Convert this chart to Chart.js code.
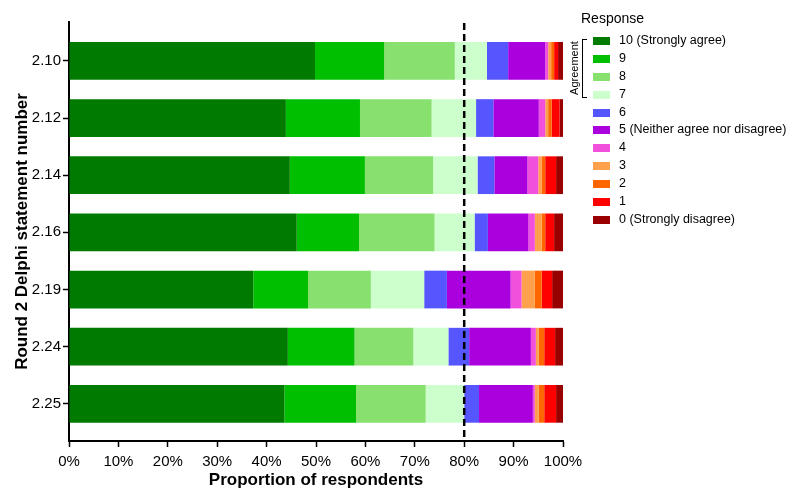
<!DOCTYPE html>
<html>
<head>
<meta charset="utf-8">
<script src="https://cdn.jsdelivr.net/npm/chart.js@4.4.1/dist/chart.umd.min.js"></script>
<style>
  body { margin: 0; background: #fff; }
  #wrap { position: relative; width: 800px; height: 501px; font-family: "Liberation Sans", Arial, sans-serif; }
  #legend { position: absolute; left: 581px; top: 8px; color: #000; }
  #legend .title { font-size: 14px; height: 24px; line-height: 20px; }
  #legend .item { position: relative; height: 17.9px; padding-left: 38px; font-size: 12.5px; line-height: 17.9px; white-space: nowrap; }
  #legend .box { position: absolute; left: 12px; top: 5px; width: 17px; height: 8px; }
  #bracket { position: absolute; left: 582px; top: 39px; width: 4px; height: 57px; border: 1.5px solid #000; border-right: none; }
  #agree { position: absolute; left: 574px; top: 68px; font-size: 11px; transform: translate(-50%, -50%) rotate(-90deg); white-space: nowrap; }
</style>
</head>
<body>
<div id="wrap">
  <canvas id="myChart" width="800" height="501"></canvas>
  <div id="legend"></div>
  <div id="bracket"></div>
  <div id="agree">Agreement</div>
</div>
<script>
const statements = ["2.10", "2.12", "2.14", "2.16", "2.19", "2.24", "2.25"];

const responses = ["10 (Strongly agree)", "9", "8", "7", "6", "5 (Neither agree nor disagree)", "4", "3", "2", "1", "0 (Strongly disagree)"];
const colors = ["#007b00", "#00bf00", "#88e06e", "#ccffcc", "#5656ff", "#aa00dd", "#f050dc", "#ffa04c", "#ff6600", "#ff0000", "#990000"];

// percentages per response, one value per statement (same order as statements)
const r10 = [49.8, 43.9, 44.7, 46.1, 37.3, 44.3, 43.6];
const r9 = [14.0, 15.0, 15.2, 12.6, 11.1, 13.5, 14.5];
const r8 = [14.3, 14.5, 13.8, 15.3, 12.7, 11.9, 14.1];
const r7 = [6.5, 9.0, 9.0, 8.1, 10.8, 7.1, 7.8];
const r6 = [4.3, 3.5, 3.4, 2.7, 4.6, 4.2, 3.0];
const r5 = [7.5, 9.2, 6.7, 8.2, 12.9, 12.5, 10.9];
const r4 = [0.6, 1.3, 2.2, 1.3, 2.2, 1.0, 0.4];
const r3 = [0.6, 0.6, 0.7, 1.4, 2.7, 0.6, 0.8];
const r2 = [0.6, 0.7, 0.7, 0.7, 1.4, 1.1, 1.1];
const r1 = [0.8, 1.6, 2.2, 1.8, 2.1, 2.2, 2.4];
const r0 = [1.0, 0.7, 1.4, 1.8, 2.2, 1.6, 1.4];

const xTicks = [0, 10, 20, 30, 40, 50, 60, 70, 80, 90, 100];
const cutoff = 80;

const series = [r10, r9, r8, r7, r6, r5, r4, r3, r2, r1, r0];
const FONT = "'Liberation Sans', Arial, sans-serif";

// dashed 80% reference line
const cutoffLine = {
  id: "cutoffLine",
  afterDatasetsDraw(chart) {
    const { ctx, chartArea, scales } = chart;
    const x = scales.x.getPixelForValue(cutoff);
    ctx.save();
    ctx.strokeStyle = "#000";
    ctx.lineWidth = 2.5;
    ctx.setLineDash([7, 4]);
    ctx.beginPath();
    ctx.moveTo(x, chartArea.top + 1);
    ctx.lineTo(x, chartArea.bottom);
    ctx.stroke();
    ctx.restore();
  },
};

const ctx = document.getElementById("myChart");
const chart = new Chart(ctx, {
  type: "bar",
  data: {
    datasets: series.map((vals, k) => ({
      label: responses[k],
      data: vals.map((v, i) => ({ x: v, y: i })),
      backgroundColor: colors[k],
      borderWidth: 0,
      barPercentage: 0.66,
      categoryPercentage: 1,
    })),
  },
  options: {
    indexAxis: "y",
    responsive: false,
    animation: false,
    layout: { padding: { top: 22, right: 237, left: 0, bottom: 0 } },
    plugins: { legend: { display: false }, tooltip: { enabled: false } },
    scales: {
      x: {
        type: "linear",
        stacked: true,
        min: 0,
        max: 100,
        afterBuildTicks: (s) => { s.ticks = xTicks.map((v) => ({ value: v })); },
        afterFit: (s) => { s.height = 60; },
        ticks: { color: "#000", font: { family: FONT, size: 15 }, padding: 6, maxRotation: 0, callback: (v) => v + "%" },
        grid: { drawOnChartArea: false, tickLength: 6, tickColor: "#000", tickWidth: 1.5 },
        border: { color: "#000", width: 2 },
        title: { display: true, text: "Proportion of respondents", color: "#000", font: { family: FONT, size: 17, weight: "bold" }, padding: { top: 0, bottom: 10 } },
      },
      y: {
        type: "linear",
        stacked: true,
        reverse: true,
        offset: false,
        min: -0.68,
        max: 6.65,
        afterBuildTicks: (s) => { s.ticks = statements.map((_, i) => ({ value: i })); },
        afterFit: (s) => { s.width = 69; },
        ticks: { color: "#000", font: { family: FONT, size: 15 }, padding: 2, callback: (v) => statements[v] },
        grid: { offset: false, drawOnChartArea: false, tickLength: 6, tickColor: "#000", tickWidth: 1.5 },
        border: { color: "#000", width: 2 },
        title: { display: true, text: "Round 2 Delphi statement number", color: "#000", font: { family: FONT, size: 17, weight: "bold" }, padding: { top: 12, bottom: 0 } },
      },
    },
  },
  plugins: [cutoffLine],
});

// legend
const legend = document.getElementById("legend");
legend.innerHTML = '<div class="title">Response</div>' + responses.map((r, k) =>
  '<div class="item"><span class="box" style="background:' + colors[k] + '"></span>' + r + '</div>'
).join("");
</script>
</body>
</html>
